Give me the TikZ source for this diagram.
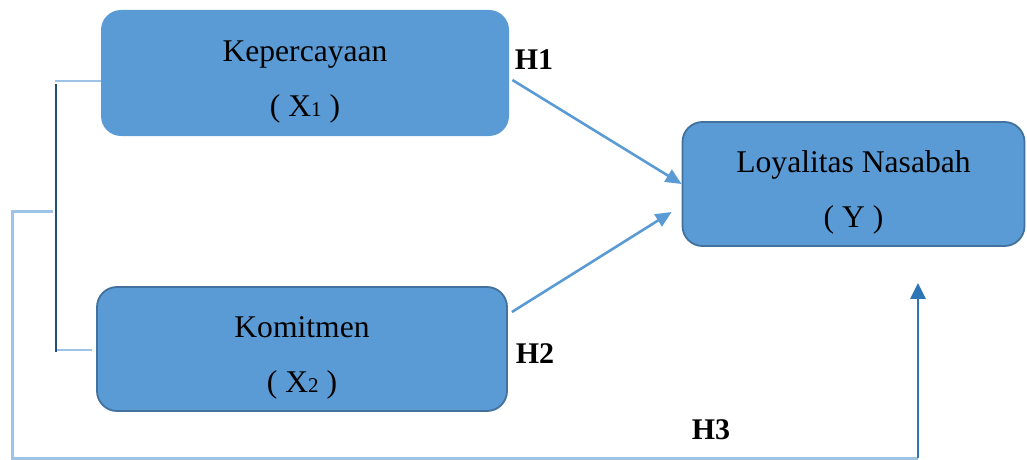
\documentclass[tikz,border=0pt]{standalone}
\usepackage{fontspec}
\setmainfont{Liberation Serif}
\usetikzlibrary{arrows.meta}
\definecolor{boxfill}{HTML}{5B9BD5}
\definecolor{boxline}{HTML}{41719C}
\definecolor{lightline}{HTML}{9DC3E6}
\definecolor{darkline}{HTML}{1F4E79}
\definecolor{arrowblue}{HTML}{2E75B6}
\tikzset{
  varbox/.style={fill=boxfill, rounded corners=10pt, inner sep=0pt, align=center,
    font=\fontsize{15.8}{18}\selectfont},
  hlabel/.style={font=\fontsize{15}{18}\selectfont\bfseries},
  link/.style={draw=boxfill, line width=1.3pt, -{Triangle[length=8pt,width=7pt]}}
}
\newcommand{\sub}[1]{{\fontsize{10.5}{12}\selectfont #1}}
\newcommand{\toprule}{\rule{0pt}{19pt}}
\begin{document}
\begin{tikzpicture}[x=0.5pt,y=-0.5pt]
    \useasboundingbox (0,0) rectangle (1027,460);

    %variables
    \node [varbox, minimum width=204pt, minimum height=63pt] (kep) at (305,73)
      {\toprule Kepercayaan\\[9.5pt]( X\sub{1} )};
    \node [varbox, draw=boxline, line width=0.9pt, minimum width=205pt, minimum height=62pt] (kom) at (302,349)
      {\toprule Komitmen\\[9.5pt]( X\sub{2} )};
    \node [varbox, draw=boxline, line width=0.9pt, minimum width=171pt, minimum height=62pt] (loy) at (853.5,184)
      {\toprule Loyalitas Nasabah\\[9.5pt]( Y )};

    %hypotheses
    \draw [link] ([shift={(3,7)}]kep.east) -- (loy.west);
    \draw [link] ([shift={(4,-37)}]kom.east) -- ([shift={(-10,28)}]loy.west);
    \node [hlabel] (h1) at (534,60) {H1};
    \node [hlabel] (h2) at (535,354) {H2};
    \node [hlabel] (h3) at (711,430) {H3};

    %bracket
    \coordinate (b1) at (55,81);
    \coordinate (b2) at (55,350);
    \coordinate (bm) at (53,211);
    \draw [lightline, line width=1.1pt] (b1) -- (kep.west |- b1);
    \draw [lightline, line width=1.1pt] (b2) -- ([xshift=-2]kom.west |- b2);
    \draw [darkline, line width=1.1pt] (56,84) -- (56,352);

    %H3 path
    \coordinate (c1) at (12,211);
    \coordinate (c2) at (12,458);
    \coordinate (c3) at (918,458);
    \draw [lightline, line width=1.5pt] (bm) -- (c1) -- (c2) -- (c3);
    \draw [arrowblue, line width=1.4pt, -{Triangle[length=8pt,width=7.5pt]}] (c3) -- ([yshift=-18pt]loy.south -| c3);

    \end{tikzpicture}
\end{document}
